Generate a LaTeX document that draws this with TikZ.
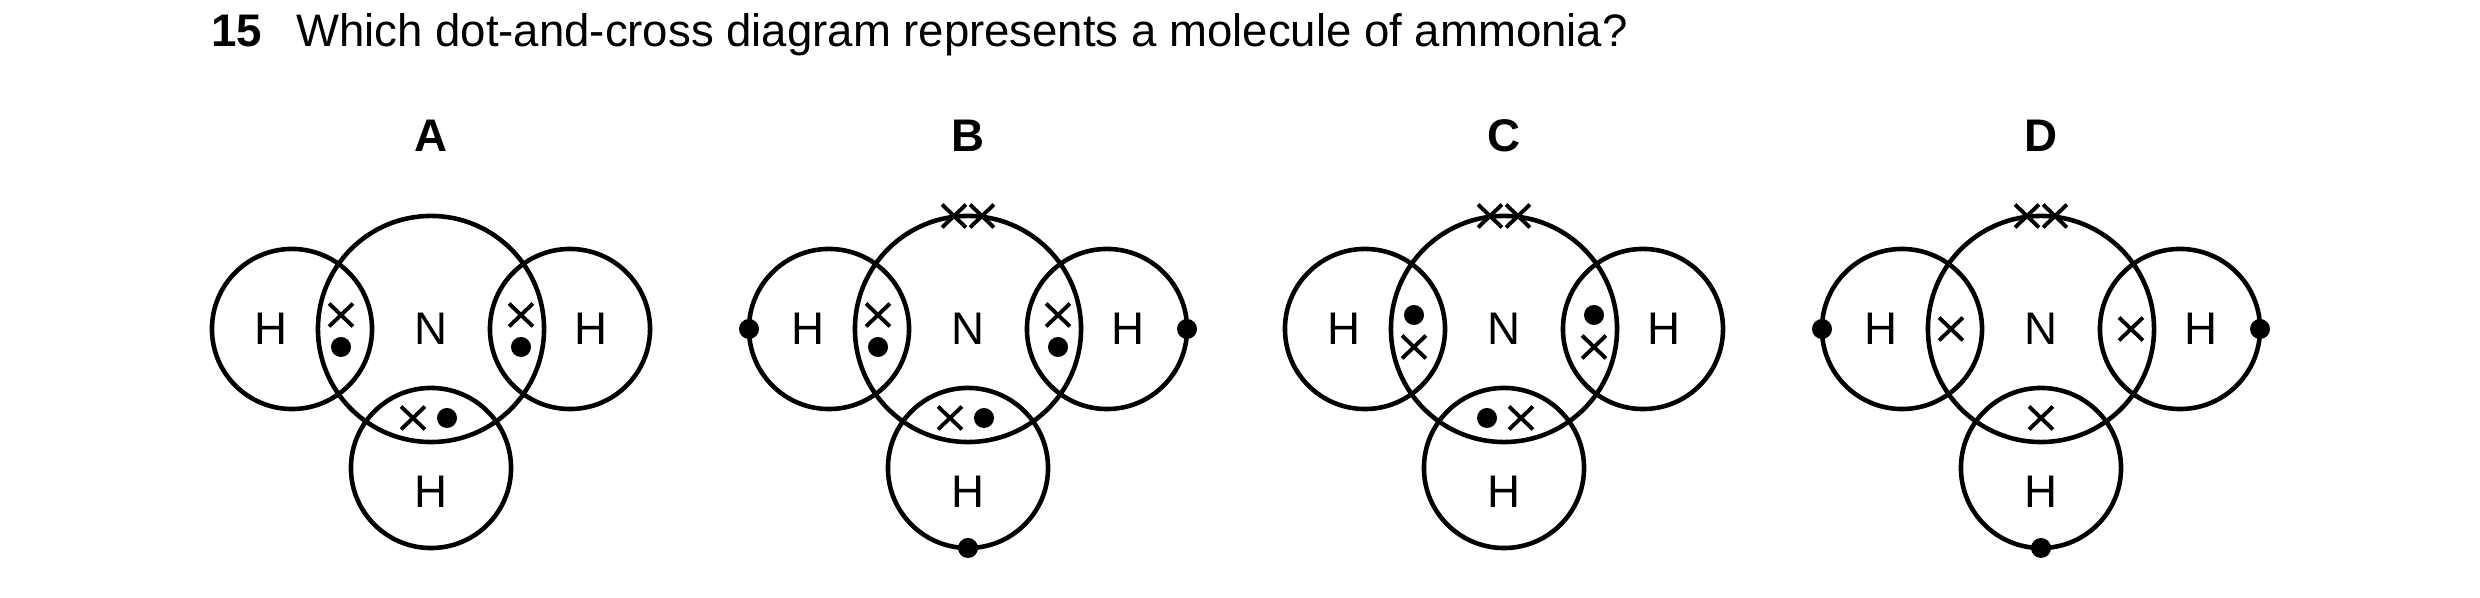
\documentclass[tikz,border=0pt]{standalone}
\usepackage{fontspec}
\setmainfont{Liberation Sans}
\usetikzlibrary{shapes.misc}

\begin{document}
\begin{tikzpicture}[x=0.01cm,y=-0.01cm,line width=1.3pt,
        shell/.style={circle,draw,inner sep=0pt},
        atom/.style={font=\fontsize{13}{15}\selectfont},
        elx/.style={cross out,draw,line width=1.1pt,inner sep=0pt,minimum width=0.2cm,minimum height=0.19cm},
        eld/.style={circle,fill,inner sep=0pt,minimum size=0.2cm}]
        \useasboundingbox (0,0) rectangle (2480,598);
        \node[anchor=base west,inner sep=0pt,font=\fontsize{13}{15}\selectfont\bfseries] (num) at (209,47) {15};
        \node[anchor=base west,inner sep=0pt,font=\fontsize{12.95}{15}\selectfont] (question) at (294,47) {Which dot-and-cross diagram represents a molecule of ammonia?};
        % four molecules, same shells
        \foreach \name/\cx in {A/431,B/968,C/1504,D/2041} {
            \node[font=\fontsize{13}{15}\selectfont\bfseries] (lab\name) at (\cx,136) {\name};
            \node[shell,minimum size=2.26cm] (N\name) at (\cx,329) {};
            \node[shell,minimum size=1.6cm] (HL\name) at (\cx-139,329) {};
            \node[shell,minimum size=1.6cm] (HR\name) at (\cx+139,329) {};
            \node[shell,minimum size=1.6cm] (HB\name) at (\cx,468) {};
            \node[atom] at (N\name) {N};
            \node[atom] at (\cx-160,329) {H};
            \node[atom] at (\cx+160,329) {H};
            \node[atom] at (\cx,492) {H};
        }
        % A
        \foreach \s in {-1,1} {
            \node[elx] at (431+\s*90,315) {};
            \node[eld] at (431+\s*90,347) {};
        }
        \node[elx] at (413,418) {};
        \node[eld] at (447,418) {};
        % B
        \foreach \s in {-1,1} {
            \node[elx] at (968+\s*90,315) {};
            \node[eld] at (968+\s*90,347) {};
            \node[eld] at (968+\s*219,329) {};
            \node[elx] at (968+\s*14,216) {};
        }
        \node[elx] at (950,418) {};
        \node[eld] at (984,418) {};
        \node[eld] at (968,548) {};
        % C
        \foreach \s in {-1,1} {
            \node[eld] at (1504+\s*90,315) {};
            \node[elx] at (1504+\s*90,347) {};
            \node[elx] at (1504+\s*14,216) {};
        }
        \node[eld] at (1487,418) {};
        \node[elx] at (1521,418) {};
        % D
        \foreach \s in {-1,1} {
            \node[elx] at (2041+\s*90,329) {};
            \node[eld] at (2041+\s*219,329) {};
            \node[elx] at (2041+\s*14,216) {};
        }
        \node[elx] at (2041,418) {};
        \node[eld] at (2041,548) {};
\end{tikzpicture}
\end{document}
